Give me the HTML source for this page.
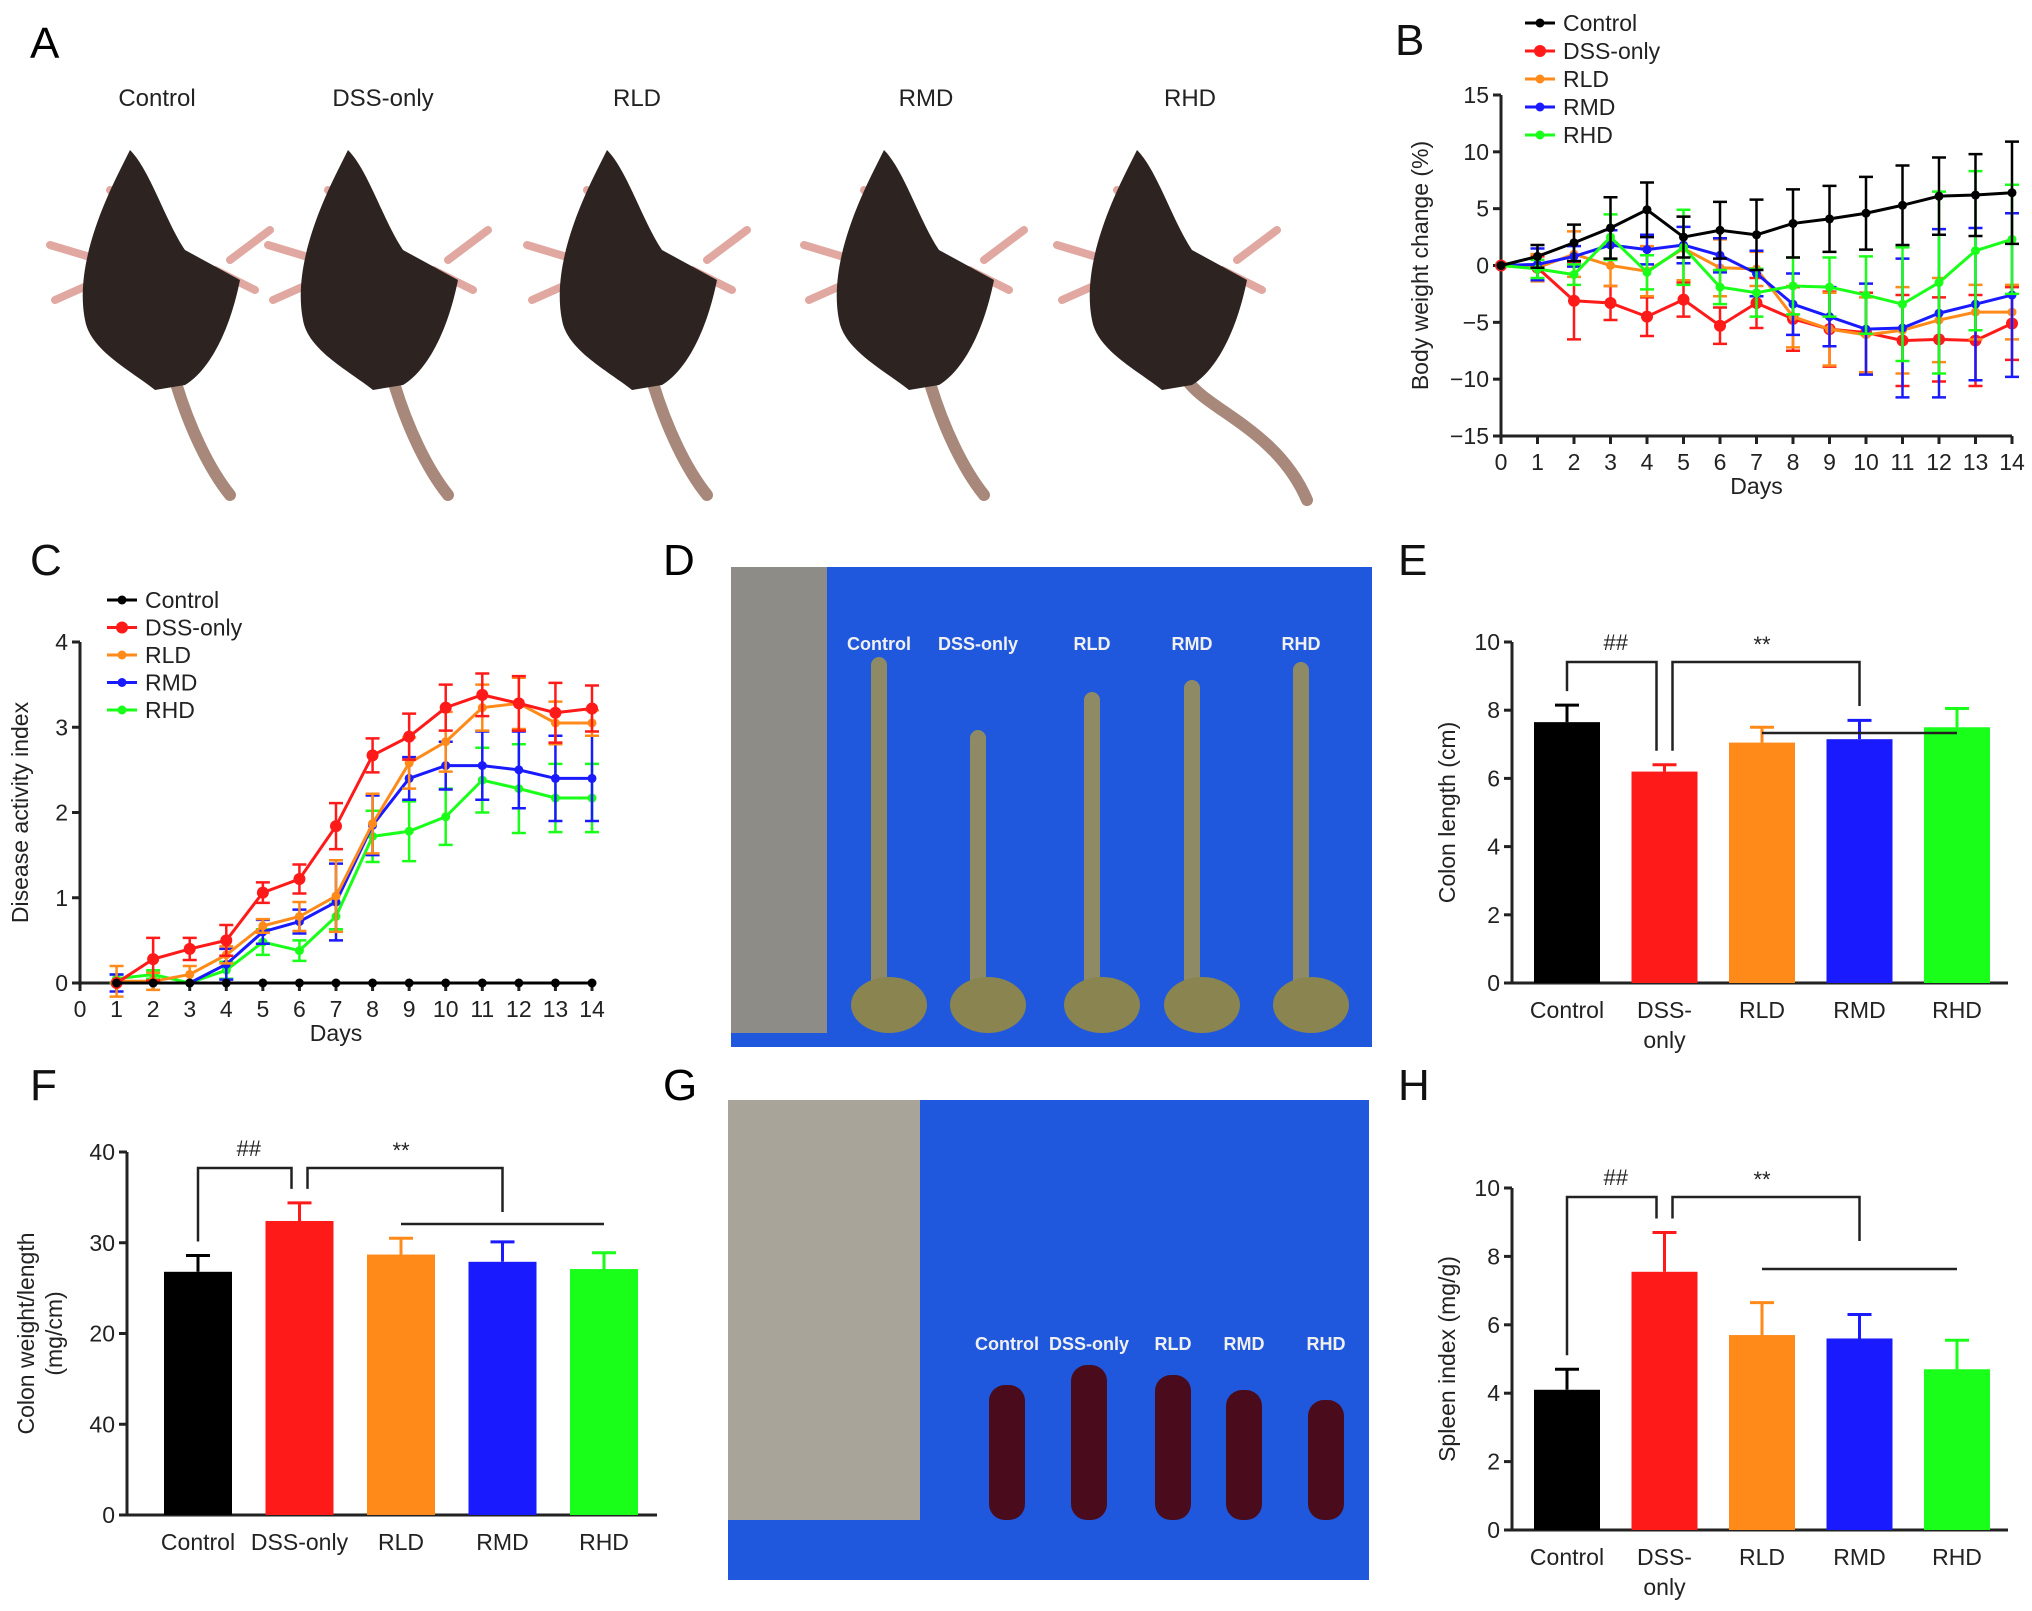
<!DOCTYPE html>
<html><head><meta charset="utf-8">
<style>
html,body{margin:0;padding:0;background:#fff;}
svg{display:block;font-family:"Liberation Sans",Arial,sans-serif;}
</style></head>
<body>
<svg id="fig" width="2032" height="1611" viewBox="0 0 2032 1611" xmlns="http://www.w3.org/2000/svg">
<g id="panelA">
  <text x="30" y="58" font-size="44">A</text>
</g>
<g id="panelD">
  <text x="663" y="575" font-size="44">D</text>
  <rect x="731" y="567" width="641" height="480" fill="#1f58dc"/>
  <rect x="731" y="567" width="96" height="466" fill="#8e8c86"/>
</g>
<g id="panelG">
  <text x="663" y="1100" font-size="44">G</text>
  <rect x="728" y="1100" width="641" height="480" fill="#1f58dc"/>
  <rect x="728" y="1100" width="192" height="420" fill="#a9a49a"/>
</g>
<g id="charts"></g>
</svg>
<script>
// ---------- data ----------
const groups = ["Control","DSS-only","RLD","RMD","RHD"];
const colors = ["#000000","#ff1a1a","#ff8a1a","#1a1aff","#1aff1a"];
const daysB = [0,1,2,3,4,5,6,7,8,9,10,11,12,13,14];
const bwControl = [0,0.8,2,3.3,4.9,2.5,3.1,2.7,3.7,4.1,4.6,5.3,6.1,6.2,6.4];
const bwDSS = [0,-0.2,-3.1,-3.3,-4.5,-3,-5.3,-3.3,-4.7,-5.6,-5.9,-6.6,-6.5,-6.6,-5.1];
const bwRLD = [0,-0.2,1,0,-0.5,1.5,-0.2,-0.3,-4.5,-5.6,-6.1,-5.7,-4.8,-4.1,-4.1];
const bwRMD = [0,0.1,0.8,1.8,1.4,1.8,0.9,-0.7,-3.4,-4.5,-5.6,-5.5,-4.2,-3.4,-2.6];
const bwRHD = [0,-0.3,-0.8,2.5,-0.6,1.6,-1.9,-2.4,-1.8,-1.9,-2.6,-3.4,-1.5,1.3,2.3];
const bwErrControl = [0,1,1.6,2.7,2.4,1.8,2.5,3.1,3,2.9,3.2,3.5,3.4,3.6,4.5];
const bwErrDSS = [0,1,3.4,1.5,1.7,1.5,1.6,2.2,2.8,3.3,3.5,4,3.7,4,3.2];
const bwErrRLD = [0,1.2,2,1.8,2.2,2.8,2.5,1.5,2.7,3.2,3.3,3.8,3.7,2.4,2.4];
const bwErrRMD = [0,1.4,0.9,1.3,1.3,1.6,1.5,2,2.7,2.6,4,6.1,7.4,6.7,7.2];
const bwErrRHD = [0,0.8,0.9,2,1.5,3.3,1.5,2.1,2.5,2.6,3.4,5,8,7,4.8];
const bTicks = [-15,-10,-5,0,5,10,15];

const daysC = [1,2,3,4,5,6,7,8,9,10,11,12,13,14];
const daiControl = [0,0,0,0,0,0,0,0,0,0,0,0,0,0];
const daiDSS = [0,0.28,0.4,0.5,1.06,1.22,1.84,2.67,2.89,3.23,3.38,3.28,3.17,3.22];
const daiRLD = [0.02,0.02,0.1,0.33,0.67,0.78,1.02,1.87,2.58,2.83,3.23,3.28,3.05,3.05];
const daiRMD = [0,0,0,0.22,0.6,0.72,0.95,1.85,2.4,2.55,2.55,2.5,2.4,2.4];
const daiRHD = [0.05,0.1,0,0.15,0.48,0.38,0.78,1.72,1.78,1.95,2.38,2.28,2.17,2.17];
const daiErrDSS = [0,0.25,0.13,0.18,0.12,0.17,0.27,0.2,0.27,0.27,0.25,0.32,0.35,0.27];
const daiErrRLD = [0.18,0.1,0.1,0.1,0.08,0.17,0.42,0.35,0.3,0.35,0.27,0.3,0.25,0.15];
const daiErrRMD = [0.1,0,0,0.18,0.14,0.14,0.45,0.35,0.25,0.28,0.4,0.45,0.5,0.5];
const daiErrRHD = [0.05,0.05,0,0.1,0.15,0.12,0.15,0.3,0.35,0.33,0.38,0.52,0.4,0.4];
const cTicks = [0,1,2,3,4];

const colonLength = [7.65,6.2,7.05,7.15,7.5];
const colonLengthErr = [0.5,0.2,0.45,0.55,0.55];
const colonWeight = [26.8,32.4,28.7,27.9,27.1];
const colonWeightErr = [1.8,2,1.8,2.2,1.8];
const spleenIndex = [4.1,7.55,5.7,5.6,4.7];
const spleenIndexErr = [0.6,1.15,0.95,0.7,0.85];
const eTicks = [0,2,4,6,8,10];
const fTicks = [0,10,20,30,40];
const fTickLabels = ["0","40","20","30","40"];
const hTicks = [0,2,4,6,8,10];

// ---------- helpers ----------
const NS = "http://www.w3.org/2000/svg";
const root = document.getElementById("charts");
function mk(tag, attrs, parent){
  const e = document.createElementNS(NS, tag);
  for (const k in attrs) e.setAttribute(k, attrs[k]);
  (parent||root).appendChild(e);
  return e;
}
function txt(x,y,s,size,anchor,parent,extra){
  const t = mk("text",Object.assign({x:x,y:y,"font-size":size,"text-anchor":anchor||"start",fill:"#222"},extra||{}),parent);
  t.textContent = s;
  return t;
}

// ---------- Panel A mice ----------
const A = document.getElementById("panelA");
const miceX = [130,348,607,884,1137];
const miceLabelX = [157,383,637,926,1190];
groups.forEach((g,i)=>{
  const lab = txt(miceLabelX[i],106,g,24,"middle",A);
  
  
  const x = miceX[i], y = 150;
  const m = mk("g",{transform:"translate("+x+","+y+")"},A);
  
  
  const tailEnd = i===4 ? "M50,230 C70,260 140,280 170,350" : "M45,230 C60,280 80,320 100,345";
  mk("path",{d:tailEnd,stroke:"#a8887a",  "stroke-width":12,fill:"none","stroke-linecap":"round"},m);
  mk("path",{d:"M-30,110 L-80,95 M-30,130 L-75,150 M100,110 L140,80 M85,120 L125,140 M15,80 L-20,40",stroke:"#e0a8a0","stroke-width":8,fill:"none","stroke-linecap":"round"},m);
  mk("path",{d:"M0,0 C20,20 35,70 55,100 L110,130 C100,180 80,220 55,235 L25,240 C0,220 -40,200 -45,170 C-55,120 -30,60 -10,20 Z",fill:"#2d2422"},m);
});

// ---------- Panel D colons ----------
const D = document.getElementById("panelD");
const colonX = [879,978,1092,1192,1301];
const colonTop = [665,738,700,688,670];
groups.forEach((g,i)=>{
  const l = txt(colonX[i],650,g,18,"middle",D,{fill:"#f0f0f0","font-weight":"bold"});
  
  
  const c = mk("g",{},D);
  
  
  mk("line",{x1:colonX[i],y1:colonTop[i],x2:colonX[i],y2:990,stroke:"#8f8a66","stroke-width":16,"stroke-linecap":"round"},c);
  mk("ellipse",{cx:colonX[i]+10,cy:1005,rx:38,ry:28,fill:"#8a8450"},c);
});

// ---------- Panel G spleens ----------
const G = document.getElementById("panelG");
const spleenX = [1007,1089,1173,1244,1326];
const spleenTop = [1385,1365,1375,1390,1400];
groups.forEach((g,i)=>{
  const l = txt(spleenX[i],1350,g,18,"middle",G,{fill:"#f0f0f0","font-weight":"bold"});
  
  
  const s = mk("rect",{x:spleenX[i]-18,y:spleenTop[i],width:36,height:1520-spleenTop[i],rx:16,fill:"#4a0c1c"},G);
  
  
});

// ---------- line charts ----------
function lineChart(cfg){
  const g = mk("g",{});
  
  
  const xs = d => cfg.x0 + (d - cfg.d0) * (cfg.x1 - cfg.x0) / (cfg.d1 - cfg.d0);
  const ys = v => cfg.yb + (v - cfg.vmin) * (cfg.yt - cfg.yb) / (cfg.vmax - cfg.vmin);
  const ax = mk("path",{d:"M"+cfg.x0+","+ys(cfg.vmax)+" V"+ys(cfg.vmin)+" H"+cfg.x1,stroke:"#222","stroke-width":3,fill:"none"},g);
  
  
  cfg.yticks.forEach(v=>{
    mk("line",{x1:cfg.x0-8,x2:cfg.x0,y1:ys(v),y2:ys(v),stroke:"#222","stroke-width":3},g);
    const t = txt(cfg.x0-12,ys(v)+8,(v<0?"\u2212"+(-v):String(v)),23,"end",g);
    
    
  });
  for(let d=cfg.d0; d<=cfg.d1; d++){
    mk("line",{x1:xs(d),x2:xs(d),y1:ys(cfg.vmin),y2:ys(cfg.vmin)+8,stroke:"#222","stroke-width":3},g);
    const t = txt(xs(d),ys(cfg.vmin)+34,String(d),23,"middle",g);
    
    
  }
  const xt = txt((cfg.x0+cfg.x1)/2,ys(cfg.vmin)+58,"Days",23,"middle",g);
  
  
  const yt = txt(0,0,cfg.ytitle,23,"middle",g,{transform:"translate("+cfg.ytx+","+((ys(cfg.vmin)+ys(cfg.vmax))/2)+") rotate(-90)"});
  
  
  const order = cfg.order;
  order.forEach(i=>{
    const s = mk("g",{},g);
    
    
    const vals = cfg.series[i], errs = cfg.errs[i];
    cfg.days.forEach((d,k)=>{
      if(errs && errs[k]>0){
        const x = xs(d);
        mk("path",{d:"M"+x+","+ys(vals[k]-errs[k])+" V"+ys(vals[k]+errs[k])+" M"+(x-7)+","+ys(vals[k]+errs[k])+" h14 M"+(x-7)+","+ys(vals[k]-errs[k])+" h14",stroke:colors[i],"stroke-width":2.5,fill:"none"},s);
      }
    });
    const pts = cfg.days.map((d,k)=>xs(d)+","+ys(vals[k])).join(" ");
    mk("polyline",{points:pts,stroke:colors[i],"stroke-width":3,fill:"none"},s);
    cfg.days.forEach((d,k)=>{
      mk("circle",{cx:xs(d),cy:ys(vals[k]),r:i===1?6:4.5,fill:colors[i]},s);
    });
  });
  groups.forEach((gn,i)=>{
    const ly = cfg.ly + i*cfg.lstep;
    const le = mk("g",{},g);
    
    
    mk("line",{x1:cfg.lx,x2:cfg.lx+30,y1:ly,y2:ly,stroke:colors[i],"stroke-width":3},le);
    mk("circle",{cx:cfg.lx+15,cy:ly,r:i===1?6:4.5,fill:colors[i]},le);
    txt(cfg.lx+38,ly+8,gn,23,"start",le);
  });
}
lineChart({name:"panel-b-body-weight-chart",x0:1501,x1:2012,d0:0,d1:14,yb:436,yt:95,vmin:-15,vmax:15,
  yticks:bTicks,days:daysB,series:[bwControl,bwDSS,bwRLD,bwRMD,bwRHD],errs:[bwErrControl,bwErrDSS,bwErrRLD,bwErrRMD,bwErrRHD],
  ytitle:"Body weight change (%)",ytx:1428,lx:1525,ly:23,lstep:28,order:[1,2,3,4,0]});
lineChart({name:"panel-c-dai-chart",x0:80,x1:592,d0:0,d1:14,yb:983,yt:642,vmin:0,vmax:4,
  yticks:cTicks,days:daysC,series:[daiControl,daiDSS,daiRLD,daiRMD,daiRHD],errs:[null,daiErrDSS,daiErrRLD,daiErrRMD,daiErrRHD],
  ytitle:"Disease activity index",ytx:28,lx:107,ly:600,lstep:27.5,order:[4,3,2,1,0]});

// ---------- bar charts ----------
function barChart(cfg){
  const g = mk("g",{});
  
  
  const ys = v => cfg.yb + v * (cfg.yt - cfg.yb) / cfg.vmax;
  const ax = mk("path",{d:"M"+cfg.x0+","+ys(cfg.vmax)+" V"+cfg.yb+" H"+cfg.x1,stroke:"#222","stroke-width":3,fill:"none"},g);
  
  
  cfg.ticks.forEach((v,k)=>{
    mk("line",{x1:cfg.x0-8,x2:cfg.x0,y1:ys(v),y2:ys(v),stroke:"#222","stroke-width":3},g);
    const t = txt(cfg.x0-12,ys(v)+8,cfg.tickLabels?cfg.tickLabels[k]:String(v),23,"end",g);
    
    
  });
  const yt = mk("text",{"font-size":23,"text-anchor":"middle",fill:"#222",transform:"translate("+cfg.ytx+","+((cfg.yb+ys(cfg.vmax))/2)+") rotate(-90)"},g);
  
  
  cfg.ytitle.forEach((line,k)=>{
    const ts = mk("tspan",{x:0,dy:k===0?(cfg.ytitle.length>1?-6:0):28},yt);
    ts.textContent = line;
  });
  cfg.values.forEach((v,i)=>{
    const cx = cfg.cx[0] + i*(cfg.cx[1]-cfg.cx[0]);
    const b = mk("rect",{x:cx-cfg.bw/2,y:ys(v),width:cfg.bw,height:cfg.yb-ys(v),fill:colors[i]},g);
    
    
    const e = cfg.errs[i];
    const eb = mk("path",{d:"M"+cx+","+ys(v)+" V"+ys(v+e)+" M"+(cx-12)+","+ys(v+e)+" h24",stroke:colors[i],"stroke-width":3,fill:"none"},g);
    
    
    const lbl = groups[i]==="DSS-only" && cfg.split ? ["DSS-","only"] : [groups[i]];
    lbl.forEach((s,k)=>{
      const t = txt(cx,cfg.yb+35+k*30,s,23,"middle",g);
      
      
    });
  });
  const c0 = cfg.cx[0], d = cfg.cx[1]-cfg.cx[0];
  const top0 = ys(cfg.values[0]+cfg.errs[0])-14, top1 = ys(cfg.values[1]+cfg.errs[1])-14;
  const bt = cfg.bracketY;
  const br = mk("path",{d:"M"+c0+","+top0+" V"+bt+" H"+(c0+d-8)+" V"+top1+" M"+(c0+d+8)+","+top1+" V"+bt+" H"+(c0+3*d)+" V"+(bt+44)+" M"+(c0+2*d)+","+(cfg.lineY)+" H"+(c0+4*d),stroke:"#222","stroke-width":2.5,fill:"none"},g);
  
  
  const s1 = txt(c0+d/2,bt-12,"##",22,"middle",g);
  
  
  const s2 = txt(c0+2*d,bt-10,"**",22,"middle",g);
  
  
  const L = txt(cfg.letterX,cfg.letterY,cfg.letter,44,"start",g,{fill:"#111"});
  
  
}
barChart({name:"panel-e-colon-length-chart",x0:1512,x1:2008,yb:983,yt:642,vmax:10,ticks:eTicks,values:colonLength,errs:colonLengthErr,
  cx:[1567,1664.5],bw:66,ytitle:["Colon length (cm)"],ytx:1455,split:true,bracketY:662,lineY:733,letter:"E",letterX:1398,letterY:575});
barChart({name:"panel-f-colon-weight-chart",x0:127,x1:657,yb:1515,yt:1152,vmax:40,ticks:fTicks,tickLabels:fTickLabels,values:colonWeight,errs:colonWeightErr,
  cx:[198,299.5],bw:68,ytitle:["Colon weight/length","(mg/cm)"],ytx:40,split:false,bracketY:1168,lineY:1224,letter:"F",letterX:30,letterY:1100});
barChart({name:"panel-h-spleen-index-chart",x0:1512,x1:2008,yb:1530,yt:1188,vmax:10,ticks:hTicks,values:spleenIndex,errs:spleenIndexErr,
  cx:[1567,1664.5],bw:66,ytitle:["Spleen index (mg/g)"],ytx:1455,split:true,bracketY:1197,lineY:1269,letter:"H",letterX:1398,letterY:1100});
const lb = txt(1395,55,"B",44,"start",root,{fill:"#111"});


const lc = txt(30,575,"C",44,"start",root,{fill:"#111"});


</script>
</body></html>
